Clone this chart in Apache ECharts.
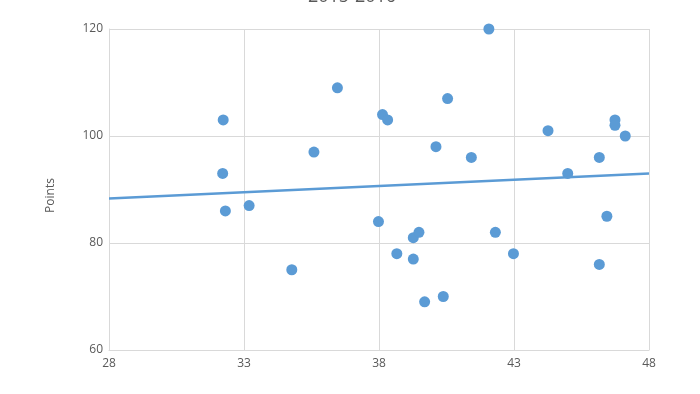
<!DOCTYPE html>
<html>
<head>
<meta charset="utf-8">
<script src="https://cdn.jsdelivr.net/npm/echarts@6/dist/echarts.min.js"></script>
<style>html,body{margin:0;padding:0;background:#fff}#c{width:700px;height:394px}</style>
</head>
<body>
<div id="c"></div>
<script>
var titleText = "2015-2016";
var yName = "Points";
var xValues = [32.23,32.21,32.31,33.19,34.77,35.59,36.46,37.98,38.13,38.32,38.66,39.27,39.27,39.48,39.69,40.11,40.38,40.54,41.42,42.07,42.31,42.98,44.26,44.99,46.16,46.16,46.44,46.74,46.74,47.12];
var yValues = [103,93,86,87,75,97,109,84,104,103,78,77,81,82,69,98,70,107,96,120,82,78,101,93,96,76,85,103,102,100];
var xMin = 28, xMax = 48, xStep = 5;
var yMin = 60, yMax = 120, yStep = 20;

var pts = xValues.map(function(x,i){return [x, yValues[i]];});
// least squares trendline
var n = pts.length, mx = 0, my = 0;
pts.forEach(function(p){mx+=p[0];my+=p[1];});
mx/=n; my/=n;
var sxy=0, sxx=0;
pts.forEach(function(p){sxy+=(p[0]-mx)*(p[1]-my);sxx+=(p[0]-mx)*(p[0]-mx);});
var slope = sxy/sxx, icpt = my - slope*mx;
var trend = [[xMin, icpt+slope*xMin],[xMax, icpt+slope*xMax]];

var chart = echarts.init(document.getElementById('c'));
var grey = '#595959', gridC = '#d9d9d9', blue = '#5b9bd5';
chart.setOption({
  animation:false,
  title:{text:titleText,left:347,textAlign:'center',top:-17,textStyle:{fontFamily:'Open Sans',fontSize:18,fontWeight:'normal',color:grey}},
  grid:{left:109,right:51,top:29,bottom:44},
  xAxis:{type:'value',min:xMin,max:xMax,interval:xStep,
    axisLine:{show:true,lineStyle:{color:gridC}},axisTick:{show:false},
    axisLabel:{color:grey,fontFamily:'Open Sans',fontSize:12,margin:8},
    splitLine:{show:true,lineStyle:{color:gridC}}},
  yAxis:{type:'value',min:yMin,max:yMax,interval:yStep,name:yName,nameLocation:'middle',nameGap:52,
    nameTextStyle:{color:grey,fontFamily:'Open Sans',fontSize:12,padding:[0,12,0,0]},
    axisLine:{show:true,lineStyle:{color:gridC}},axisTick:{show:false},
    axisLabel:{color:grey,fontFamily:'Open Sans',fontSize:12,margin:6},
    splitLine:{show:true,lineStyle:{color:gridC}}},
  series:[
    {type:'scatter',data:pts,symbol:'circle',symbolSize:11,itemStyle:{color:blue,opacity:1},z:2},
    {type:'line',data:trend,symbol:'none',lineStyle:{color:blue,width:2.5},z:3}
  ]
});
</script>
</body>
</html>
